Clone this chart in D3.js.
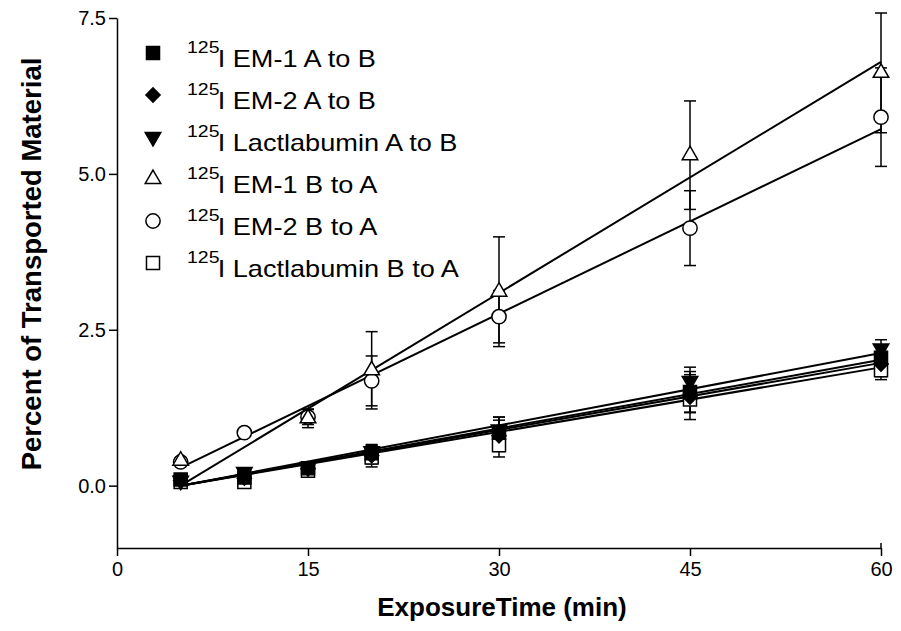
<!DOCTYPE html>
<html>
<head>
<meta charset="utf-8">
<script src="https://cdn.jsdelivr.net/npm/d3@7"></script>
<style>
  body { margin: 0; background: #fff; }
  svg { display: block; }
  text { font-family: "Liberation Sans", Arial, Helvetica, sans-serif; fill: #000; }
</style>
</head>
<body>
<svg id="chart" width="901" height="631"></svg>
<script>
// ---- data ----
const times = [5, 10, 15, 20, 30, 45, 60];
const seriesNames = ["EM-1 A to B", "EM-2 A to B", "Lactlabumin A to B", "EM-1 B to A", "EM-2 B to A", "Lactlabumin B to A"];
const seriesShapes = ["square", "diamond", "triangleDown", "triangleUp", "circle", "square"];
const seriesFilled = [true, true, true, false, false, false];

const em1AB  = [0.10, 0.13, 0.28, 0.52, 0.85, 1.50, 2.05];
const em2AB  = [0.08, 0.12, 0.27, 0.48, 0.80, 1.42, 1.95];
const lactAB = [0.08, 0.22, 0.30, 0.55, 0.90, 1.68, 2.20];
const em1BA  = [0.40, null, 1.08, 1.85, 3.11, 5.30, 6.62];
const em2BA  = [0.38, 0.85, 1.10, 1.68, 2.71, 4.13, 5.91];
const lactBA = [0.06, 0.06, 0.24, 0.45, 0.65, 1.38, 1.85];

const em1ABErr  = [0.05, 0.05, 0.05, 0.12, 0.25, 0.33, 0.20];
const em2ABErr  = [0.05, 0.05, 0.05, 0.18, 0.25, 0.36, 0.20];
const lactABErr = [0.04, 0.06, 0.05, 0.10, 0.20, 0.22, 0.14];
const em1BAErr  = [0.05, null, 0.15, 0.62, 0.88, 0.87, 0.96];
const em2BAErr  = [0.05, 0.05, 0.12, 0.40, 0.42, 0.60, 0.79];
const lactBAErr = [0.04, 0.05, 0.05, 0.10, 0.19, 0.20, 0.15];

// linear fit lines (slope, intercept) per series
const fitSlope     = [0.0367, 0.0358, 0.0387, 0.1236, 0.0987, 0.0345];
const fitIntercept = [-0.184, -0.179, -0.194, -0.618, -0.204, -0.173];
const fitRange = [5, 60];

const xTicks = [0, 15, 30, 45, 60];
const yTicks = [0, 2.5, 5.0, 7.5];
const xTitle = "ExposureTime (min)";
const yTitle = "Percent of Transported Material";
const isotope = "125";

const values = [em1AB, em2AB, lactAB, em1BA, em2BA, lactBA];
const errors = [em1ABErr, em2ABErr, lactABErr, em1BAErr, em2BAErr, lactBAErr];

// ---- chart ----
const svg = d3.select("#chart");
const x = d3.scaleLinear().domain([0, 60]).range([117, 881]);
const y = d3.scaleLinear().domain([-1, 7.5]).range([548, 18]);

function symbolPath(shape) {
  switch (shape) {
    case "square": return d3.symbol(d3.symbolSquare, 170)();
    case "diamond": return d3.symbol(d3.symbolSquare, 100)();
    case "triangleUp": return d3.symbol(d3.symbolTriangle, 105)();
    case "triangleDown": return d3.symbol(d3.symbolTriangle, 105)();
    case "circle": return d3.symbol(d3.symbolCircle, 160)();
  }
}
function symbolRotate(shape) {
  if (shape === "diamond") return 45;
  if (shape === "triangleDown") return 180;
  return 0;
}

// axes
const xAxis = d3.axisBottom(x).tickValues(xTicks).tickSize(8).tickSizeOuter(0).tickPadding(6).tickFormat(d3.format("d"));
const gx = svg.append("g").attr("transform", `translate(0,${y(-1)})`).call(xAxis);
const yAxis = d3.axisLeft(y).tickValues(yTicks).tickSize(8).tickSizeOuter(0).tickPadding(3).tickFormat(d3.format(".1f"));
const gy = svg.append("g").attr("transform", `translate(${x(0)},0)`).call(yAxis);
[gx, gy].forEach(g => {
  g.select(".domain").attr("stroke", "#000").attr("stroke-width", 1.5);
  g.selectAll(".tick line").attr("stroke", "#000").attr("stroke-width", 1.5);
  g.selectAll(".tick text").attr("font-size", 20).attr("fill", "#000")
    .style("font-family", '"Liberation Sans", Arial, sans-serif');
});
// right-end tick of x axis pointing up
svg.append("line").attr("x1", x(60)).attr("x2", x(60)).attr("y1", y(-1)).attr("y2", y(-1) - 5)
  .attr("stroke", "#000").attr("stroke-width", 1.5);

// axis titles
svg.append("text").attr("x", 502).attr("y", 616).attr("text-anchor", "middle")
  .attr("font-size", 26).attr("font-weight", "bold").text(xTitle);
svg.append("text").attr("transform", "translate(41,264) rotate(-90)").attr("text-anchor", "middle")
  .attr("font-size", 27.5).attr("font-weight", "bold").text(yTitle);

// fit lines
const plot = svg.append("g");
fitSlope.forEach((m, i) => {
  const b = fitIntercept[i];
  plot.append("line")
    .attr("x1", x(fitRange[0])).attr("y1", y(m * fitRange[0] + b))
    .attr("x2", x(fitRange[1])).attr("y2", y(m * fitRange[1] + b))
    .attr("stroke", "#000").attr("stroke-width", 2);
});

// error bars
values.forEach((vals, i) => {
  vals.forEach((v, j) => {
    const e = errors[i][j];
    if (v == null || e == null) return;
    const cx = x(times[j]);
    const g = plot.append("g").attr("stroke", "#000").attr("stroke-width", 1.5);
    g.append("line").attr("x1", cx).attr("x2", cx).attr("y1", y(v - e)).attr("y2", y(v + e));
    g.append("line").attr("x1", cx - 6).attr("x2", cx + 6).attr("y1", y(v + e)).attr("y2", y(v + e));
    g.append("line").attr("x1", cx - 6).attr("x2", cx + 6).attr("y1", y(v - e)).attr("y2", y(v - e));
  });
});

// markers
const drawOrder = [5, 4, 3, 2, 1, 0];
drawOrder.forEach(i => {
  values[i].forEach((v, j) => {
    if (v == null) return;
    plot.append("path")
      .attr("d", symbolPath(seriesShapes[i]))
      .attr("transform", `translate(${x(times[j])},${y(v)}) rotate(${symbolRotate(seriesShapes[i])})`)
      .attr("fill", seriesFilled[i] ? "#000" : "#fff")
      .attr("stroke", "#000").attr("stroke-width", 1.5);
  });
});

// legend
const legend = svg.append("g");
seriesNames.forEach((name, i) => {
  const cy = 53 + i * 42;
  legend.append("path")
    .attr("d", symbolPath(seriesShapes[i]))
    .attr("transform", `translate(153,${cy}) rotate(${symbolRotate(seriesShapes[i])})`)
    .attr("fill", seriesFilled[i] ? "#000" : "#fff")
    .attr("stroke", "#000").attr("stroke-width", 1.5);
  const t = legend.append("g").attr("transform", `translate(187,${cy}) scale(1.18,1)`);
  t.append("text").attr("x", 0).attr("y", 0).attr("font-size", 16.5).text(isotope);
  t.append("text").attr("x", 26).attr("y", 13.5).attr("font-size", 23).text("I " + name);
});
</script>
</body>
</html>
